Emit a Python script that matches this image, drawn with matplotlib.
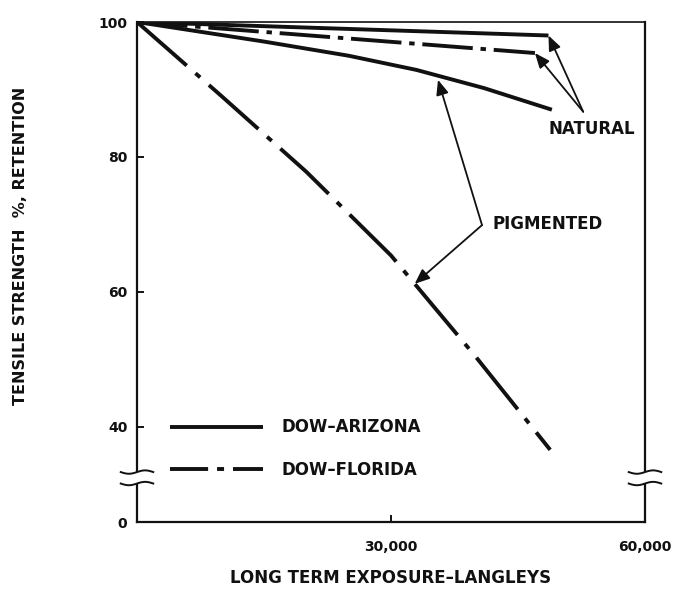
import numpy as np
import matplotlib
matplotlib.use("Agg")
import matplotlib.pyplot as plt
import matplotlib.transforms as mtransforms
from matplotlib.lines import Line2D
from matplotlib.patches import Rectangle

# Tensile strength retention (%) versus exposure (langleys)
nat_az_x = [0, 48600]
nat_az_y = [100, 98.0]
nat_fl_x = [0, 47000]
nat_fl_y = [100, 95.4]
pig_az_x = [0, 15000, 25000, 33000, 41000, 49000]
pig_az_y = [100, 97.1, 95.0, 92.9, 90.2, 87.0]
pig_fl_x = [0, 10000, 20000, 30000, 40000, 48800]
pig_fl_y = [100, 89.0, 77.8, 65.4, 50.4, 36.6]

x_ticks = [30000, 60000]
x_tick_labels = ["30,000", "60,000"]
y_ticks = [40, 60, 80, 100]
y_tick_labels = ["40", "60", "80", "100"]
legend_labels = ["DOW\u2013ARIZONA", "DOW\u2013FLORIDA"]

plt.rcParams["font.family"] = ["DejaVu Sans"]
plt.rcParams["font.weight"] = "bold"
INK = "#111111"

Y_BOTTOM = 25.9          # broken axis: the lower edge stands for 0
BREAK_LO, BREAK_HI = 31.6, 33.3

fig = plt.figure(figsize=(6.76, 5.92), dpi=100)
ax = fig.add_axes([137 / 676, 1 - 522 / 592, 508 / 676, 500 / 592])
ax.set_xlim(0, 60000)
ax.set_ylim(Y_BOTTOM, 100)

LW = 2.8
solid = "-"
dashdot_pig = (0, (17, 3.0, 1.6, 3.0))
dashdot_nat = (0, (13, 2.0, 1.4, 2.0))

ax.plot(nat_az_x, nat_az_y, color=INK, lw=LW, ls=solid, solid_capstyle="butt")
ax.plot(nat_fl_x, nat_fl_y, color=INK, lw=LW, ls=dashdot_nat)
ax.plot(pig_az_x, pig_az_y, color=INK, lw=LW, ls=solid, solid_capstyle="butt")
ax.plot(pig_fl_x, pig_fl_y, color=INK, lw=LW, ls=dashdot_pig)

# Axes frame and ticks
for side in ["left", "bottom", "right"]:
    ax.spines[side].set_linewidth(1.6)
ax.spines["top"].set_linewidth(1.2)
for s in ax.spines.values():
    s.set_color(INK)

ax.set_xticks(x_ticks)
ax.set_xticklabels(x_tick_labels)
ax.set_yticks([Y_BOTTOM] + y_ticks)
ax.set_yticklabels(["0"] + y_tick_labels)
ax.tick_params(axis="both", direction="in", length=5, width=1.4, colors=INK,
               labelsize=10)
ax.tick_params(axis="x", pad=13)
ax.tick_params(axis="y", pad=7)

ax.set_xlabel("LONG TERM EXPOSURE\u2013LANGLEYS", fontsize=12, color=INK,
              fontweight="bold")
ax.xaxis.set_label_coords(0.5, -0.094)
ax.set_ylabel("TENSILE STRENGTH  %, RETENTION", fontsize=11.5, color=INK,
              fontweight="bold")
ax.yaxis.set_label_coords(-0.215, 0.552)

# Axis breaks on both vertical spines
btrans = mtransforms.blended_transform_factory(ax.transAxes, ax.transData)
t = np.linspace(-1, 1, 60)
for xa in (0.0, 1.0):
    ax.add_patch(Rectangle((xa - 0.01, BREAK_LO), 0.02, BREAK_HI - BREAK_LO,
                           transform=btrans, facecolor="white", edgecolor="none",
                           zorder=5, clip_on=False))
    for yb in (BREAK_LO, BREAK_HI):
        ax.plot(xa + 0.032 * t, yb + 0.25 * np.sin(np.pi * t), transform=btrans,
                color=INK, lw=1.4, clip_on=False, zorder=6)

# Annotations
arrow = dict(arrowstyle="-|>,head_length=0.6,head_width=0.25", lw=1.3,
             color=INK, mutation_scale=15, shrinkA=0, shrinkB=0)

nat_tail = (52700, 86.7)
ax.annotate("", xy=(nat_az_x[-1], nat_az_y[-1]), xytext=nat_tail, arrowprops=arrow)
ax.annotate("", xy=(nat_fl_x[-1], nat_fl_y[-1]), xytext=nat_tail, arrowprops=arrow)
ax.text(53740, 84.1, "NATURAL", ha="center", va="center", fontsize=12, color=INK)

pig_bend = (40750, 69.9)
tip_az_x = 35550
tip_fl_x = 32800
ax.annotate("", xy=(tip_az_x, np.interp(tip_az_x, pig_az_x, pig_az_y) - 0.6),
            xytext=pig_bend, arrowprops=arrow)
ax.annotate("", xy=(tip_fl_x, np.interp(tip_fl_x, pig_fl_x, pig_fl_y)),
            xytext=pig_bend, arrowprops=arrow)
ax.text(41930, 70.1, "PIGMENTED", ha="left", va="center", fontsize=12, color=INK)

# Legend
handles = [
    Line2D([], [], color=INK, lw=LW, ls=solid, solid_capstyle="butt"),
    Line2D([], [], color=INK, lw=LW, ls=(0, (9.8, 2.3, 1.8, 2.3))),
]
ax.legend(handles, legend_labels, loc="upper left", bbox_to_anchor=(0.065, 0.207),
          frameon=False, fontsize=12, handlelength=5.6, handletextpad=1.1,
          labelspacing=1.45, borderpad=0, borderaxespad=0,
          labelcolor=INK)

fig.savefig("out.png", dpi=100)
